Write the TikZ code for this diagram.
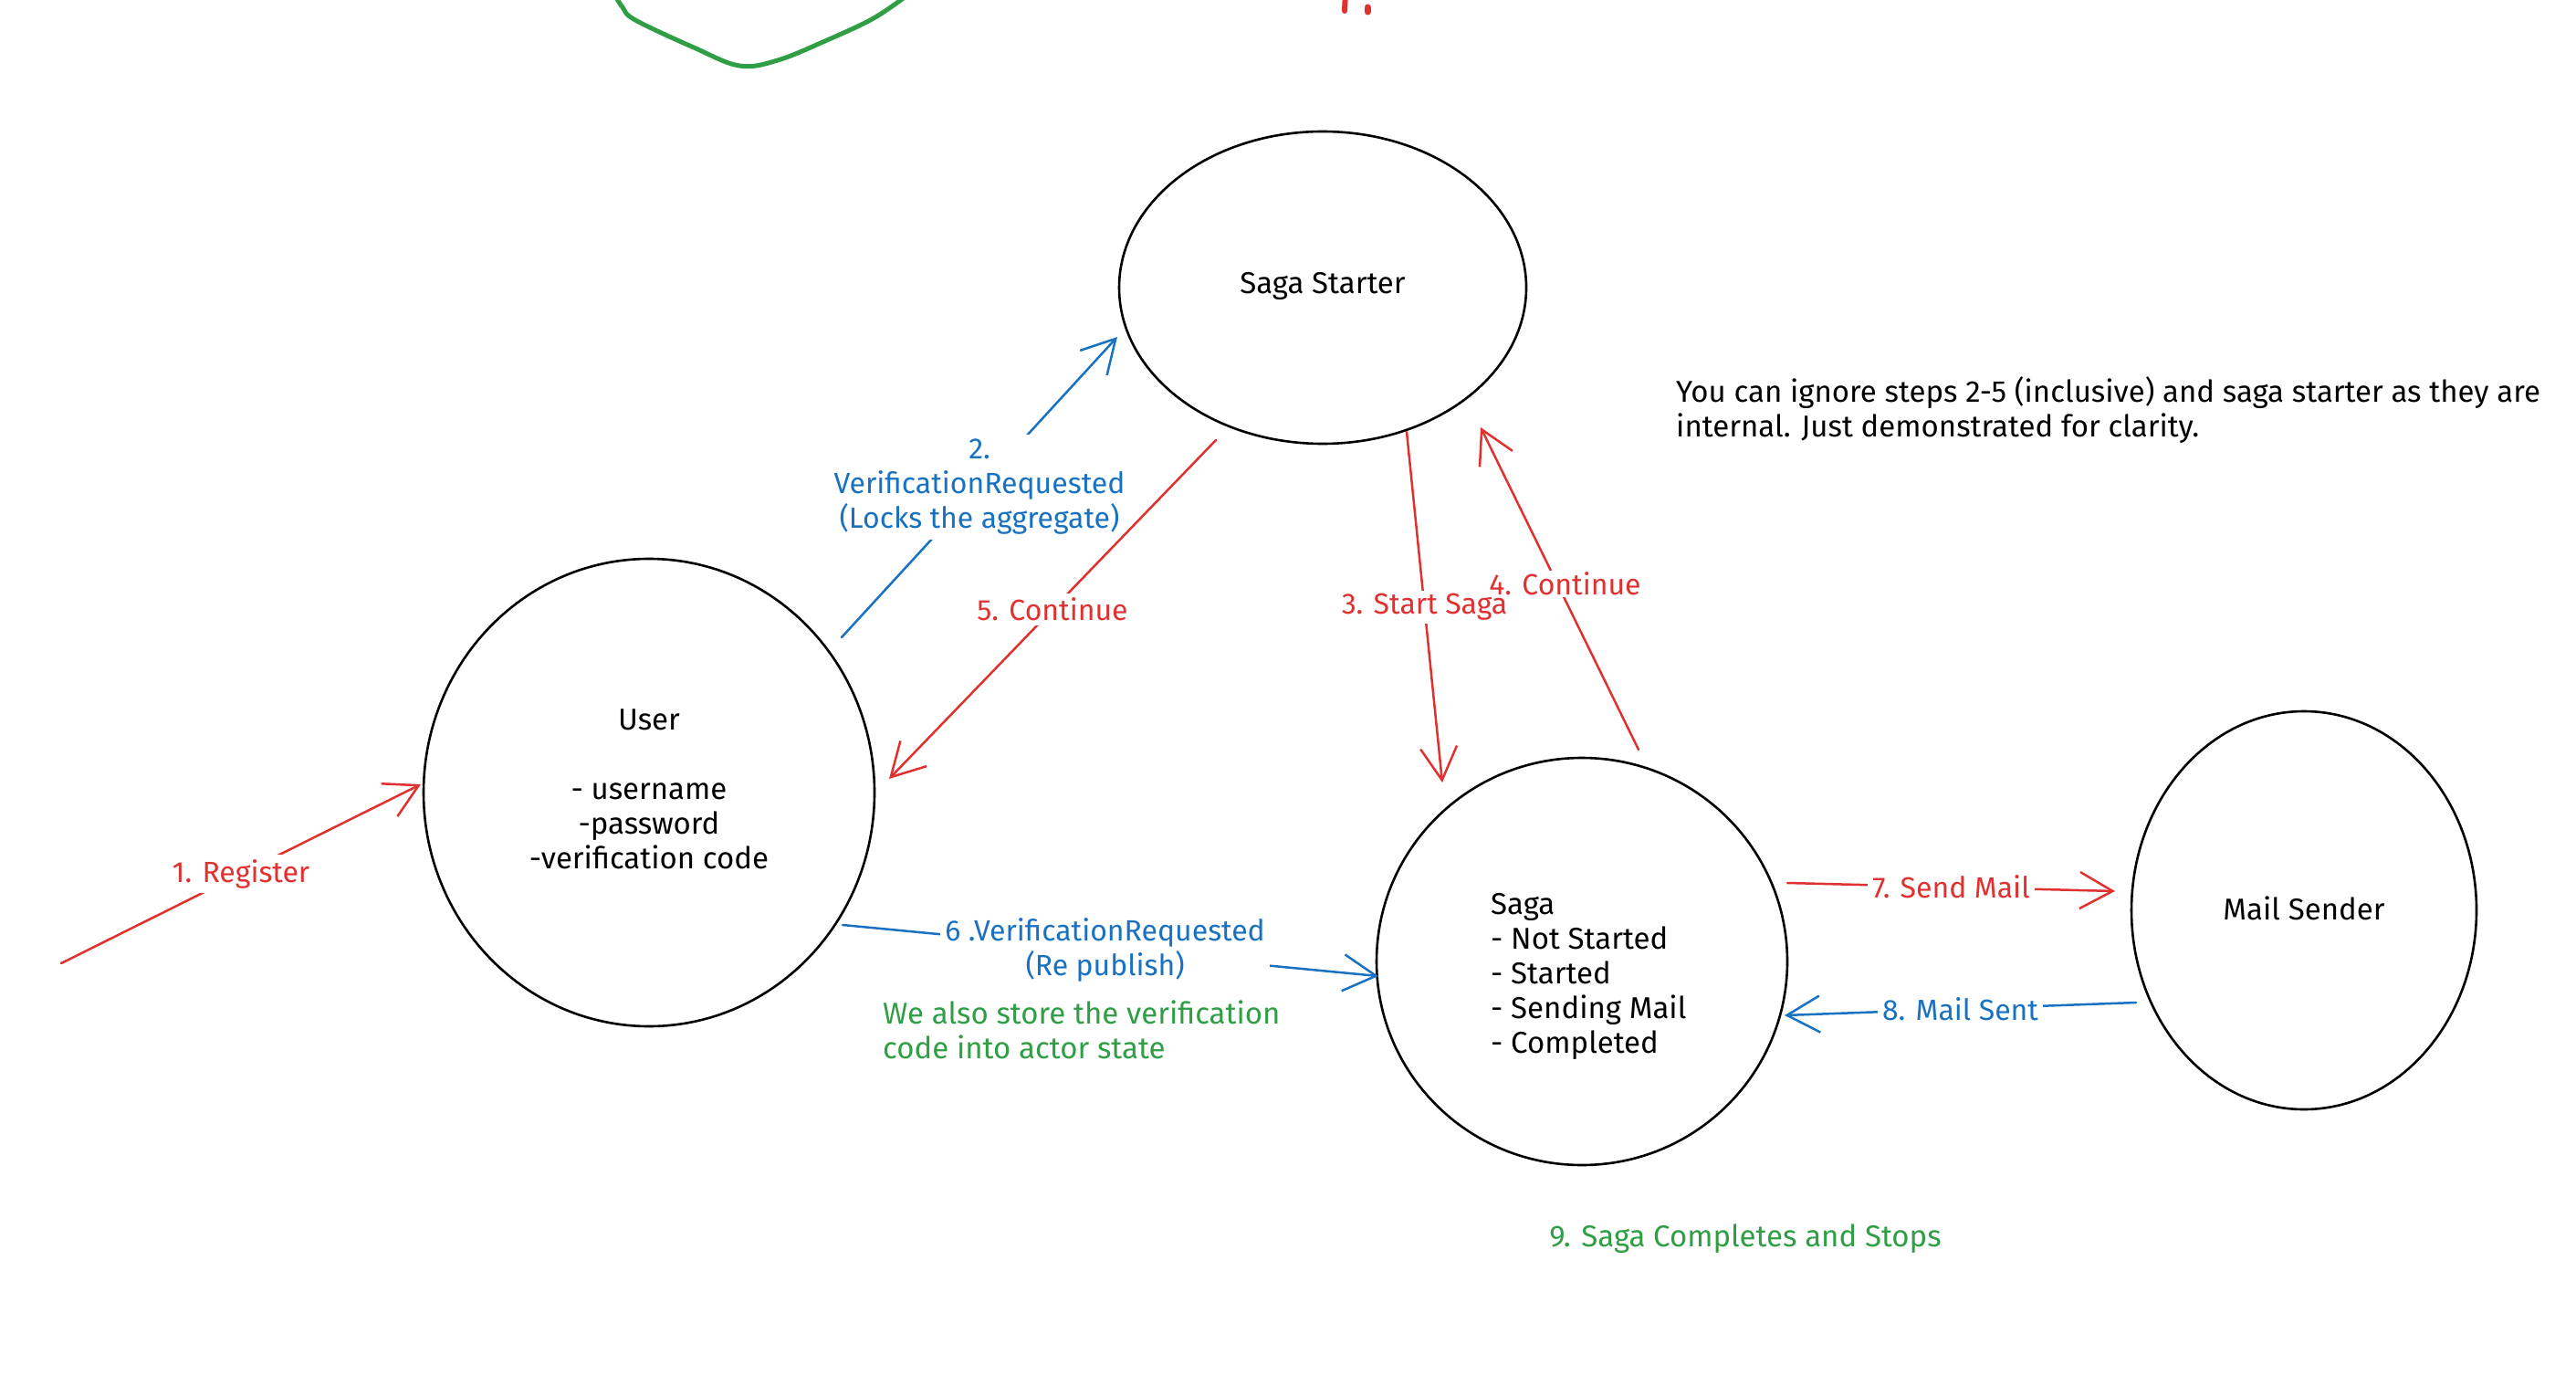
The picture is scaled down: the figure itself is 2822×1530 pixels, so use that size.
\documentclass[tikz,border=0pt]{standalone}
\usepackage{fontspec}
\setmainfont{Fira Sans}
\usetikzlibrary{shapes.geometric,arrows.meta}
\definecolor{exred}{HTML}{E03131}
\definecolor{exblue}{HTML}{1971C2}
\definecolor{exgreen}{HTML}{2F9E44}
\tikzset{
  ell/.style={draw=black, ellipse, line width=2.6pt, inner sep=0pt},
  txt/.style={font=\fontsize{33}{38}\selectfont, inner sep=0pt},
  lbl/.style={font=\fontsize{32}{38}\selectfont, fill=white, inner sep=5pt, align=center},
  conn/.style={line width=2.5pt, line cap=round},
  arr/.style={conn, -{Straight Barb[length=36pt,width=40pt,line width=2.5pt]}},
}
\begin{document}
\begin{tikzpicture}[x=1pt,y=-1pt]
\useasboundingbox (0,0) rectangle (2822,1530);

% partial shapes at the top edge
\draw[exgreen, line width=5pt, line cap=round] plot[smooth, tension=0.6] coordinates {(672,-8) (682,8) (696,22) (760,52) (810,72) (852,66) (906,44) (957,20) (995,-6)};
\draw[exred, line width=6pt, line cap=round] (1474,-10) -- (1473,12);
\draw[exred, line width=7pt, line cap=round] (1498,8) -- (1498,13);

% nodes
\node[ell, minimum width=446pt, minimum height=342pt] (starter) at (1449,315) {};
\node[ell, minimum width=494pt, minimum height=512pt] (user) at (711,868) {};
\node[ell, minimum width=450pt, minimum height=446pt] (saga) at (1733,1053) {};
\node[ell, minimum width=378pt, minimum height=436pt] (mail) at (2524,997) {};

\node[txt] (starterT) at (1449,313) {Saga Starter};
\node[txt, align=center] (userT) at (711,864) {User\\[38pt]- username\\-password\\-verification code};
\node[txt, align=left, anchor=west] (sagaT) at (1633,1069) {Saga\\- Not Started\\- Started\\- Sending Mail\\- Completed};
\node[txt] (mailT) at (2524,995) {Mail Sender};

\node[txt, align=left, anchor=north west] (note) at (1836,412) {You can ignore steps 2-5 (inclusive) and saga starter as they are\\internal. Just demonstrated for clarity.};
\node[txt, align=left, anchor=north west, text=exgreen] (store) at (967,1096) {We also store the verification\\code into actor state};
\node[txt, text=exgreen] (done) at (1912,1357) {9. Saga Completes and Stops};

% connector end points
\coordinate (r1) at (67,1055);   \coordinate (r2) at (461,859);
\coordinate (b2a) at (922,698);  \coordinate (b2b) at (1224,369);
\coordinate (c5a) at (1332,482); \coordinate (c5b) at (974,853);
\coordinate (s3a) at (1541,473); \coordinate (s3b) at (1580,857);
\coordinate (c4a) at (1795,821); \coordinate (c4b) at (1622,468);
\coordinate (b6a) at (923,1013); \coordinate (b6b) at (1510,1069);
\coordinate (m7a) at (1958,967); \coordinate (m7b) at (2317,976);
\coordinate (m8a) at (2340,1098);\coordinate (m8b) at (1955,1112);

% connectors
\draw[arr, exred] (r1) -- node[lbl, text=exred, pos=0.5] (l1) {1. Register} (r2);
\draw[arr, exblue] (b2a) -- node[lbl, text=exblue, pos=0.5] (l2) {2.\\VerificationRequested\\(Locks the aggregate)} (b2b);
\draw[arr, exred] (c5a) -- node[lbl, text=exred, pos=0.5] (l5) {5. Continue} (c5b);
\draw[arr, exred] (s3a) -- node[lbl, text=exred, pos=0.5, inner sep=3pt] (l3) {3. Start Saga} (s3b);
\draw[arr, exred] (c4a) -- node[lbl, text=exred, pos=0.5, yshift=5pt, xshift=6pt, inner sep=1.5pt] (l4) {4. Continue} (c4b);
\draw[arr, exblue] (b6a) -- node[lbl, text=exblue, pos=0.49] (l6) {6 .VerificationRequested\\(Re publish)} (b6b);
\draw[arr, exred] (m7a) -- node[lbl, text=exred, pos=0.5] (l7) {7. Send Mail} (m7b);
\draw[arr, exblue] (m8a) -- node[lbl, text=exblue, pos=0.5] (l8) {8. Mail Sent} (m8b);
\end{tikzpicture}
\end{document}
